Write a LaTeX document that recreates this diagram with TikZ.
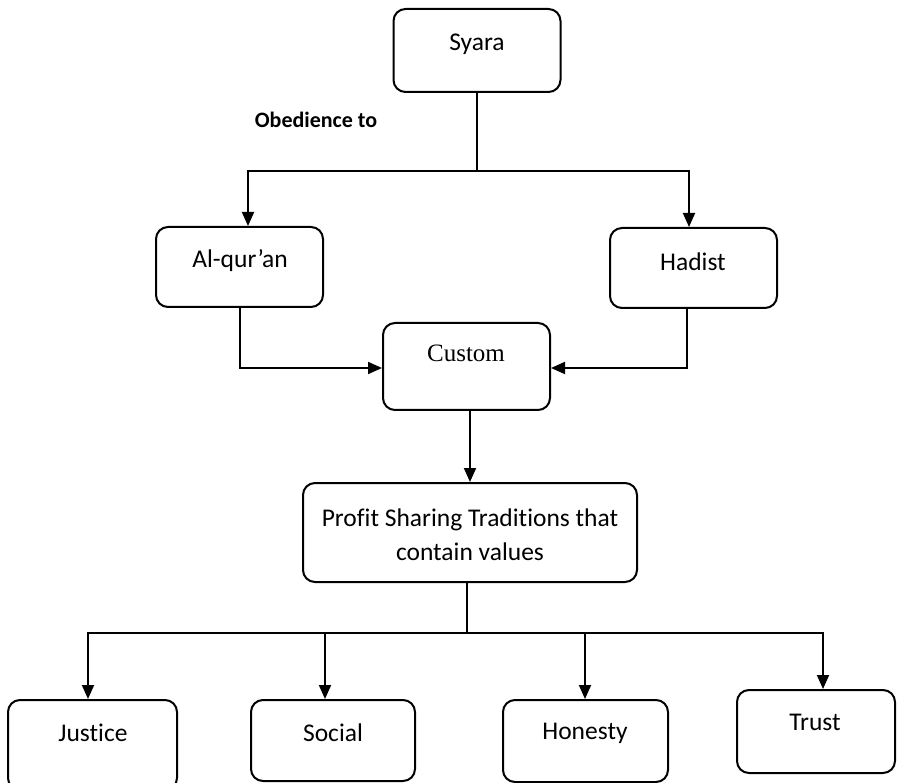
\documentclass[tikz,border=0pt]{standalone}
\usepackage{fontspec}
\setmainfont{Carlito}[Ligatures=NoCommon]
\newfontfamily\timesfont{Liberation Serif}
\usetikzlibrary{arrows.meta}
\begin{document}
\begin{tikzpicture}[x=1pt,y=-1pt,
  box/.style={draw,line width=2pt,rounded corners=12pt,inner sep=0pt},
  conn/.style={line width=1.9pt},
  arr/.style={conn,-{Triangle[length=14pt,width=12pt]}},
  lbl/.style={font=\fontsize{25.5}{31}\selectfont}]
\useasboundingbox (0,0) rectangle (897,783);
% boxes
\node[box,minimum width=167pt,minimum height=83pt] (syara) at (477,50.5) {};
\node[lbl] (syaraT) at (477,44) {Syara};

\node[box,minimum width=167pt,minimum height=80pt] (aq) at (239.5,267) {};
\node[lbl] (aqT) at (240,261) {Al-qur’an};

\node[box,minimum width=167pt,minimum height=80pt] (hd) at (693.5,268) {};
\node[lbl] (hdT) at (693,262) {Hadist};

\node[box,minimum width=167pt,minimum height=87pt] (cs) at (466.5,366.5) {};
\node[font=\timesfont\fontsize{25}{30}\selectfont] (csT) at (466,353) {Custom};

\node[box,minimum width=334pt,minimum height=99pt] (pf) at (470,532.5) {};
\node[lbl,align=center] (pfT) at (470,535) {Profit Sharing Traditions that\\[3pt]contain values};

\node[box,minimum width=169pt,minimum height=90pt] (ju) at (92.5,745) {};
\node[lbl] (juT) at (93,733) {Justice};

\node[box,minimum width=164pt,minimum height=81pt] (so) at (333,740.5) {};
\node[lbl] (soT) at (333,733) {Social};

\node[box,minimum width=165pt,minimum height=82pt] (ho) at (585.5,741) {};
\node[lbl] (hoT) at (585,733) {Honesty};

\node[box,minimum width=158pt,minimum height=83pt] (tr) at (816,731.5) {};
\node[lbl] (trT) at (815,722) {Trust};

\node[font=\bfseries\fontsize{22}{26}\selectfont] (obed) at (316,120) {Obedience to};

% junction points
\coordinate (j1) at (477,171);
\coordinate (j2) at (467,633);

% connectors
\draw[conn] (syara.south) -- (j1);
\draw[arr] (j1) -| ([xshift=8.5pt]aq.north);
\draw[arr] (j1) -| ([xshift=-4.5pt]hd.north);
\draw[arr] ([xshift=0.5pt]aq.south) |- ([yshift=-1.5pt]cs.west);
\draw[arr] ([xshift=-6.5pt]hd.south) |- ([yshift=-1.5pt]cs.east);
\draw[arr] ([xshift=3.5pt]cs.south) -- ([xshift=0pt]pf.north);
\draw[conn] ([xshift=-3pt]pf.south) -- (j2);
\draw[arr] (j2) -| ([xshift=-4.5pt]ju.north);
\draw[arr] (j2) -| ([xshift=-8pt]so.north);
\draw[arr] (j2) -| ([xshift=-0.5pt]ho.north);
\draw[arr] (j2) -| ([xshift=7pt]tr.north);
\end{tikzpicture}
\end{document}
